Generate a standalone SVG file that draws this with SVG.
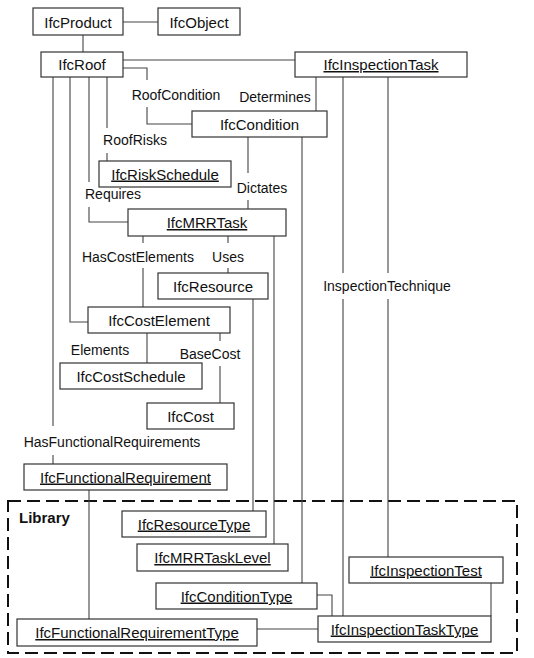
<svg xmlns="http://www.w3.org/2000/svg" width="534" height="658" viewBox="0 0 534 658">
<style>
.box rect{fill:#fff;stroke:#333;stroke-width:1.2}
.box text{font-family:"Liberation Sans",Arial,sans-serif;font-size:15px;fill:#111;text-anchor:middle}
.u text{text-decoration:underline}
.lbl{font-family:"Liberation Sans",Arial,sans-serif;font-size:14px;fill:#111;text-anchor:middle}
#connectors path{fill:none;stroke:#444;stroke-width:1.1}
</style>
<rect id="library" x="8" y="501" width="509" height="152" fill="none" stroke="#111" stroke-width="2" stroke-dasharray="13 6"/>
<text x="19" y="523" font-family="'Liberation Sans',Arial,sans-serif" font-size="15" font-weight="bold" fill="#111">Library</text>
<g id="connectors">
<path d="M123,22 H158"/>
<path d="M83,35 V52"/>
<path d="M123,60 H295"/>
<path d="M123,68 H147 V80 M147,107 V124 H192"/>
<path d="M316,77 V111"/>
<path d="M107,77 V128 M107,153 V161"/>
<path d="M89,77 V182 M89,207 V222 H128"/>
<path d="M70,77 V322 H88"/>
<path d="M53,77 V426 M53,455 V464"/>
<path d="M248,137 V173 M248,200 V209"/>
<path d="M302,137 V583"/>
<path d="M143,236 V243 M143,268 V307"/>
<path d="M228,236 V243 M228,268 V273"/>
<path d="M274,236 V544"/>
<path d="M253,299 V511"/>
<path d="M147,333 V363"/>
<path d="M220,333 V341 M220,366 V403"/>
<path d="M343,77 V273 M343,299 V616"/>
<path d="M388,77 V273 M388,299 V557"/>
<path d="M89,490 V619"/>
<path d="M317,595 H332 V616"/>
<path d="M257,629 H318"/>
<path d="M491,583 V616"/>
</g>
<g id="labels">
<text class="lbl" x="176" y="100">RoofCondition</text>
<text class="lbl" x="275" y="102">Determines</text>
<text class="lbl" x="135" y="145">RoofRisks</text>
<text class="lbl" x="113" y="199">Requires</text>
<text class="lbl" x="262" y="193">Dictates</text>
<text class="lbl" x="138" y="262">HasCostElements</text>
<text class="lbl" x="228" y="262">Uses</text>
<text class="lbl" x="387" y="291">InspectionTechnique</text>
<text class="lbl" x="100" y="355">Elements</text>
<text class="lbl" x="210" y="359">BaseCost</text>
<text class="lbl" x="112" y="447">HasFunctionalRequirements</text>
</g>
<g id="IfcProduct" class="box"><rect x="33" y="8" width="90" height="27"/><text x="78" y="27.5">IfcProduct</text></g>
<g id="IfcObject" class="box"><rect x="158" y="8" width="82" height="27"/><text x="199" y="27.5">IfcObject</text></g>
<g id="IfcRoof" class="box"><rect x="41" y="52" width="82" height="25"/><text x="82" y="70">IfcRoof</text></g>
<g id="IfcInspectionTask" class="box u"><rect x="295" y="52" width="172" height="25"/><text x="381" y="70">IfcInspectionTask</text></g>
<g id="IfcCondition" class="box"><rect x="192" y="111" width="135" height="26"/><text x="259.5" y="129.5">IfcCondition</text></g>
<g id="IfcRiskSchedule" class="box u"><rect x="99" y="161" width="132" height="26"/><text x="165" y="179.5">IfcRiskSchedule</text></g>
<g id="IfcMRRTask" class="box u"><rect x="128" y="209" width="158" height="27"/><text x="207" y="228">IfcMRRTask</text></g>
<g id="IfcResource" class="box"><rect x="158" y="273" width="110" height="26"/><text x="213" y="291.5">IfcResource</text></g>
<g id="IfcCostElement" class="box"><rect x="88" y="307" width="142" height="26"/><text x="159" y="325.5">IfcCostElement</text></g>
<g id="IfcCostSchedule" class="box"><rect x="60" y="363" width="142" height="26"/><text x="131" y="381.5">IfcCostSchedule</text></g>
<g id="IfcCost" class="box"><rect x="147" y="403" width="87" height="26"/><text x="190.5" y="421.5">IfcCost</text></g>
<g id="IfcFunctionalRequirement" class="box u"><rect x="24" y="464" width="203" height="26"/><text x="125.5" y="482.5">IfcFunctionalRequirement</text></g>
<g id="IfcResourceType" class="box u"><rect x="122" y="511" width="144" height="26"/><text x="194" y="529.5">IfcResourceType</text></g>
<g id="IfcMRRTaskLevel" class="box u"><rect x="137" y="544" width="151" height="27"/><text x="212.5" y="563">IfcMRRTaskLevel</text></g>
<g id="IfcInspectionTest" class="box u"><rect x="349" y="557" width="154" height="26"/><text x="426" y="575.5">IfcInspectionTest</text></g>
<g id="IfcConditionType" class="box u"><rect x="156" y="583" width="161" height="26"/><text x="236.5" y="601.5">IfcConditionType</text></g>
<g id="IfcFunctionalRequirementType" class="box u"><rect x="17" y="619" width="240" height="27"/><text x="137" y="638">IfcFunctionalRequirementType</text></g>
<g id="IfcInspectionTaskType" class="box u"><rect x="318" y="616" width="173" height="26"/><text x="404.5" y="634.5">IfcInspectionTaskType</text></g>
</svg>
